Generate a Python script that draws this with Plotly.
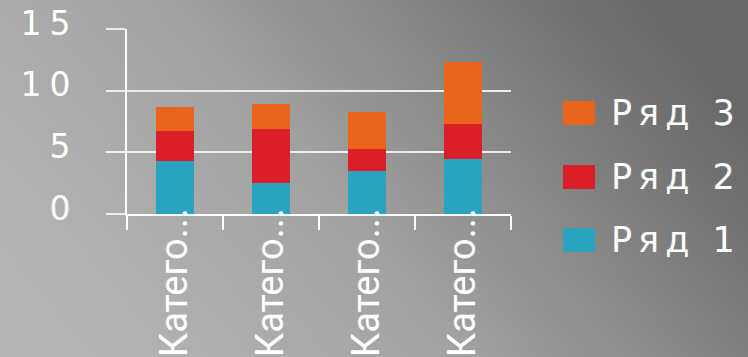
import plotly.graph_objects as go
import urllib.parse

categories = ["Категория 1", "Категория 2", "Категория 3", "Категория 4"]
category_labels = ["Катего...", "Катего...", "Катего...", "Катего..."]
series_names = ["Ряд 1", "Ряд 2", "Ряд 3"]
series1 = [4.3, 2.5, 3.5, 4.5]
series2 = [2.4, 4.4, 1.8, 2.8]
series3 = [2.0, 2.0, 3.0, 5.0]
y_ticks = [0, 5, 10, 15]
colors = ["#2AA3C0", "#DA1F28", "#E9651B"]

W, H = 748, 357
L, R, T, B = 127, 237, 29, 143
pw, ph = W - L - R, H - T - B

fig = go.Figure()
for name, vals, col in zip(series_names, [series1, series2, series3], colors):
    fig.add_trace(go.Bar(x=categories, y=vals, name=name, marker_color=col,
                         marker_line_width=0, showlegend=False))

svg = ("<svg xmlns='http://www.w3.org/2000/svg' width='748' height='357'>"
       "<defs><linearGradient id='g' x1='0' y1='0.75' x2='1' y2='0.35'>"
       "<stop offset='0' stop-color='#B6B6B6'/><stop offset='0.45' stop-color='#A2A2A2'/>"
       "<stop offset='1' stop-color='#686868'/></linearGradient></defs>"
       "<rect width='748' height='357' fill='url(#g)'/></svg>")
src = "data:image/svg+xml;charset=utf-8," + urllib.parse.quote(svg)

fig.add_layout_image(dict(source=src, xref="paper", yref="paper",
                          x=-L / pw, y=1 + T / ph, sizex=W / pw, sizey=H / ph,
                          xanchor="left", yanchor="top", sizing="stretch",
                          layer="below"))

# manual legend (large swatches)
leg_y = [240, 177, 113]
for name, col, yy in zip(series_names, colors, leg_y):
    fig.add_shape(type="rect", xref="paper", yref="paper",
                  x0=(563 - L) / pw, x1=(595 - L) / pw,
                  y0=1 - (yy - 12 - T) / ph, y1=1 - (yy + 12 - T) / ph,
                  fillcolor=col, line_width=0)
    fig.add_annotation(text=f'<span style="letter-spacing:6px">{name}</span>',
                       xref="paper", yref="paper",
                       x=(609 - L) / pw, y=1 - (yy - T) / ph,
                       xanchor="left", yanchor="middle", showarrow=False,
                       font=dict(family="DejaVu Sans", size=35, color="white"))

y_text = [f'<span style="letter-spacing:8px">{v}</span>' for v in y_ticks]

fig.update_layout(
    width=W, height=H, margin=dict(l=L, r=R, t=T, b=B, autoexpand=False),
    paper_bgcolor="rgba(0,0,0,0)", plot_bgcolor="rgba(0,0,0,0)",
    barmode="stack", bargap=0.6, showlegend=False,
)
fig.update_xaxes(tickmode="array", tickvals=categories, ticktext=category_labels,
                 tickangle=-90, ticks="outside", tickson="boundaries", ticklen=14,
                 tickcolor="white", tickwidth=2, showline=True, linecolor="white",
                 linewidth=2, showgrid=False, ticklabelstandoff=-23, automargin=False,
                 tickfont=dict(family="Roboto", size=38, color="white"))
fig.update_yaxes(range=[0, 15], tickmode="array", tickvals=y_ticks, ticktext=y_text,
                 ticks="outside", ticklen=19,
                 tickcolor="#EDEDED", tickwidth=2, showline=True, linecolor="white",
                 linewidth=2, showgrid=True, gridcolor="#EDEDED", gridwidth=2,
                 zeroline=False, ticklabelstandoff=21, ticklabelshift=-6, automargin=False,
                 tickfont=dict(family="DejaVu Sans", size=33, color="white"))

fig.write_html("out.html")
